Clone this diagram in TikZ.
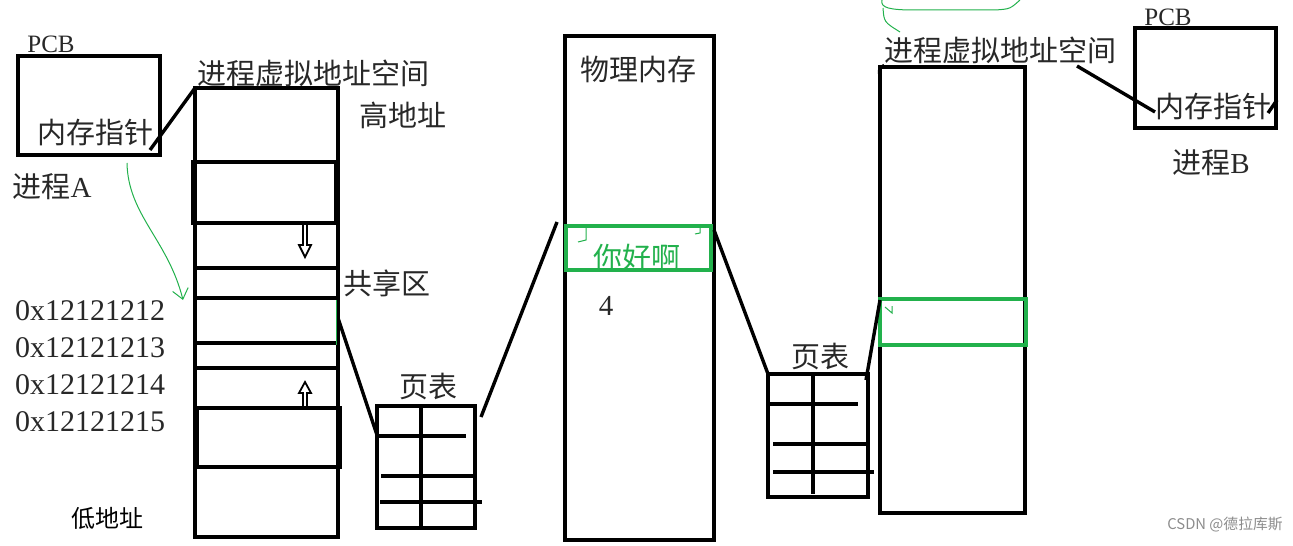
\documentclass[tikz,border=0pt]{standalone}
\usepackage{fontspec}
\setmainfont{Liberation Serif}
\newfontfamily\cjk{Noto Sans CJK SC}
\usetikzlibrary{calc,arrows.meta}
\definecolor{paintgreen}{RGB}{34,177,76}
\definecolor{marktext}{RGB}{40,40,40}
\tikzset{
  thick line/.style={line width=1.7pt},
  green box/.style={draw=paintgreen,line width=1.7pt},
  green pen/.style={draw=paintgreen,line width=0.5pt},
  lbl/.style={inner sep=0pt,text=marktext,font=\fontsize{14.5}{16}\selectfont},
  addr lbl/.style={inner sep=0pt,text=marktext,font=\fontsize{15}{17}\selectfont},
  small lbl/.style={inner sep=0pt,text=marktext,font=\fontsize{12.5}{15}\selectfont},
  hollow arrow/.style={line width=0.9pt,line join=miter},
}
\begin{document}
\begin{tikzpicture}[x=0.5pt,y=-0.5pt]
    \useasboundingbox (0,0) rectangle (1293,545);
    % set coordinates
    \coordinate (pcbA-nw) at (18,56);     \coordinate (pcbA-se) at (160,155);
    \coordinate (vsA-nw) at (195,88);     \coordinate (vsA-se) at (338,537);
    \coordinate (ptA-nw) at (377,406);    \coordinate (ptA-se) at (475,528);
    \coordinate (mem-nw) at (565,36);     \coordinate (mem-se) at (714,540);
    \coordinate (ptB-nw) at (768,374);    \coordinate (ptB-se) at (868,497);
    \coordinate (vsB-nw) at (880,67);     \coordinate (vsB-se) at (1025,513);
    \coordinate (pcbB-nw) at (1135,28);   \coordinate (pcbB-se) at (1276,128);
    \coordinate (ptrA) at (150,150);
    \coordinate (shareA) at (338,318);
    \coordinate (ptA-in) at (377,435);
    \coordinate (ptA-out) at (481,417);
    \coordinate (mem-in) at (557,222);
    \coordinate (mem-out) at (714,230);
    \coordinate (ptB-out) at (866,380);
    \coordinate (vsB-in) at (880,300);
    \coordinate (vsB-lbl) at (1077,66);
    \coordinate (ptrB) at (1155,112);

    % draw figure
    \begin{scope}[thick line]
    \draw (pcbA-nw) rectangle (pcbA-se);
    \draw (vsA-nw) rectangle (vsA-se);
    \draw (193,162) rectangle (336,223);
    \draw (195,268) -- (338,268);
    \draw (195,298) -- (338,298);
    \draw (195,343) -- (338,343);
    \draw (195,368) -- (338,368);
    \draw (197,408) rectangle (340,467);
    \draw (ptA-nw) rectangle (ptA-se);
    \draw (421,406) -- (421,527);
    \draw (377,436) -- (466,436);
    \draw (381,476) -- (475,476);
    \draw (380,502) -- (482,502);
    \draw (mem-nw) rectangle (mem-se);
    \draw (ptB-nw) rectangle (ptB-se);
    \draw (813,374) -- (813,494);
    \draw (768,404) -- (858,404);
    \draw (773,444) -- (868,444);
    \draw (773,472) -- (874,472);
    \draw (vsB-nw) rectangle (vsB-se);
    \draw (pcbB-nw) rectangle (pcbB-se);
    \end{scope}
    \draw [green box] (566,226) rectangle (711,270);
    \draw [green box] (880,299) rectangle (1026,345);

    % arrows inside the address space
    \draw [hollow arrow] (303,224) -- (303,245) -- (299,245) -- (305,257) -- (311,245) -- (307,245) -- (307,224);
    \draw [hollow arrow] (303,408) -- (303,393) -- (299,393) -- (305,382) -- (311,393) -- (307,393) -- (307,408);

    % connectors
    \begin{scope}[thick line]
    \draw (ptrA) -- (vsA-nw);
    \draw (shareA) -- (ptA-in);
    \draw (ptA-out) -- (mem-in);
    \draw (mem-out) -- (ptB-nw);
    \draw (ptB-out) -- (vsB-in);
    \draw (vsB-lbl) -- (ptrB);
    \draw (1268,113) -- (1277,100);
    \draw [line width=1.2pt] (879,74) .. controls (879,68) .. (884,65);
    \end{scope}

    % green pen marks
    \draw [green pen,-{Straight Barb[length=5pt,width=8pt]}] (127,163) .. controls (128,215) and (168,240) .. (183,300);
    \draw [green pen] (336,300) -- (336,345);
    \draw [green pen] (882,0) .. controls (880,8) and (890,10) .. (915,10) -- (995,10) .. controls (1010,9) .. (1020,0);
    \draw [green pen] (883,8) .. controls (884,22) .. (900,32);
    \draw [green pen] (586,228) -- (586,240) -- (578,242);
    \draw [green pen] (700,228) -- (700,233) -- (695,234);
    \draw [green pen] (885,307) -- (892,313) -- (892,306);

    % add labels
    \node [small lbl] (pcbA) at (51,44) {PCB};
    \node [lbl] (ptrAlbl) at (95,133) {\cjk 内存指针};
    \node [lbl] (procA) at (52,187) {{\cjk 进程}A};
    \node [lbl] (vsAlbl) at (313,73) {\cjk 进程虚拟地址空间};
    \node [lbl] (high) at (403,115) {\cjk 高地址};
    \node [lbl] (share) at (387,283) {\cjk 共享区};
    \node [addr lbl] (addr1) at (90,311) {0x12121212};
    \node [addr lbl] (addr2) at (90,348) {0x12121213};
    \node [addr lbl] (addr3) at (90,385) {0x12121214};
    \node [addr lbl] (addr4) at (90,422) {0x12121215};
    \node [inner sep=0pt,font=\fontsize{12}{14}\selectfont] (low) at (107,518) {\cjk 低地址};
    \node [lbl] (ptAlbl) at (428,387) {\cjk 页表};
    \node [lbl] (memlbl) at (638,70) {\cjk 物理内存};
    \node [lbl,text=paintgreen] (hello) at (637,257) {\cjk 你好啊};
    \node [lbl] (four) at (606,306) {4};
    \node [lbl] (ptBlbl) at (820,357) {\cjk 页表};
    \node [lbl] (vsBlbl) at (1000,50) {\cjk 进程虚拟地址空间};
    \node [small lbl] (pcbB) at (1168,17) {PCB};
    \node [lbl] (ptrBlbl) at (1213,107) {\cjk 内存指针};
    \node [lbl] (procB) at (1211,163) {{\cjk 进程}B};
    \node [inner sep=0pt,text=black!45,font=\fontsize{7.4}{9}\selectfont] (mark) at (1225,525) {\cjk CSDN @德拉库斯};
\end{tikzpicture}
\end{document}
